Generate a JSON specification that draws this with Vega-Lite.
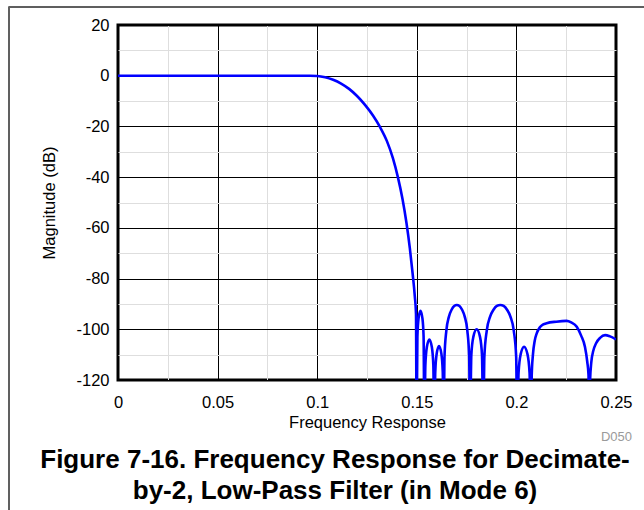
{
  "$schema": "https://vega.github.io/schema/vega-lite/v6.json",
  "width": 498,
  "height": 355,
  "autosize": "none",
  "padding": {"left": 118, "top": 25, "right": 28, "bottom": 130},
  "background": "white",
  "config": {
    "view": {"stroke": "black", "strokeWidth": 3},
    "font": "Liberation Sans",
    "axis": {"labelFont": "Liberation Sans", "titleFont": "Liberation Sans"}
  },
  "title": {
    "text": ["Figure 7-16. Frequency Response for Decimate-", "by-2, Low-Pass Filter (in Mode 6)"],
    "orient": "bottom",
    "anchor": "middle",
    "font": "Liberation Sans",
    "fontSize": 26,
    "fontWeight": "bold",
    "color": "black",
    "lineHeight": 31,
    "baseline": "alphabetic",
    "offset": -43,
    "dx": -32
  },
  "data": {
    "values": [
      {"f": 0, "db": 0}, {"f": 0.01, "db": 0}, {"f": 0.02, "db": 0}, {"f": 0.03, "db": 0},
      {"f": 0.04, "db": 0}, {"f": 0.05, "db": 0}, {"f": 0.06, "db": 0}, {"f": 0.07, "db": 0},
      {"f": 0.08, "db": 0}, {"f": 0.09, "db": 0}, {"f": 0.096, "db": -0.03}, {"f": 0.1, "db": -0.1},
      {"f": 0.104, "db": -0.6}, {"f": 0.108, "db": -1.6}, {"f": 0.112, "db": -3.1}, {"f": 0.116, "db": -5.2},
      {"f": 0.12, "db": -8.0}, {"f": 0.124, "db": -11.5}, {"f": 0.128, "db": -15.7}, {"f": 0.1315, "db": -20.2},
      {"f": 0.135, "db": -25.8}, {"f": 0.138, "db": -32.5}, {"f": 0.1405, "db": -40}, {"f": 0.1428, "db": -48.5},
      {"f": 0.1448, "db": -58}, {"f": 0.1465, "db": -68}, {"f": 0.1479, "db": -78}, {"f": 0.149, "db": -87},
      {"f": 0.1496, "db": -94}, {"f": 0.1499, "db": -140},
      {"f": 0.1503, "db": -102.9}, {"f": 0.15088, "db": -95.7}, {"f": 0.15185, "db": -92.7}, {"f": 0.15283, "db": -95.7},
      {"f": 0.15341, "db": -102.9}, {"f": 0.1538, "db": -140},
      {"f": 0.1543, "db": -114.2}, {"f": 0.15505, "db": -107}, {"f": 0.1563, "db": -104}, {"f": 0.15755, "db": -107},
      {"f": 0.1583, "db": -114.2}, {"f": 0.1588, "db": -140},
      {"f": 0.15927, "db": -116.8}, {"f": 0.15998, "db": -109.6}, {"f": 0.16115, "db": -106.6}, {"f": 0.16233, "db": -109.6},
      {"f": 0.16303, "db": -116.8}, {"f": 0.1635, "db": -140},
      {"f": 0.1639, "db": -110.9}, {"f": 0.16482, "db": -100.6}, {"f": 0.16614, "db": -95.0}, {"f": 0.16746, "db": -92.3},
      {"f": 0.16878, "db": -90.8}, {"f": 0.1701, "db": -90.4}, {"f": 0.17142, "db": -90.8}, {"f": 0.17274, "db": -92.3},
      {"f": 0.17406, "db": -95.0}, {"f": 0.17538, "db": -100.6}, {"f": 0.1763, "db": -110.9}, {"f": 0.1767, "db": -140},
      {"f": 0.17737, "db": -110.2}, {"f": 0.17838, "db": -103}, {"f": 0.18005, "db": -100}, {"f": 0.18173, "db": -103},
      {"f": 0.18273, "db": -110.2}, {"f": 0.1834, "db": -140},
      {"f": 0.18391, "db": -110.9}, {"f": 0.1851, "db": -100.6}, {"f": 0.1868, "db": -95.0}, {"f": 0.1885, "db": -92.3},
      {"f": 0.1902, "db": -90.8}, {"f": 0.1919, "db": -90.4}, {"f": 0.1936, "db": -90.8}, {"f": 0.1953, "db": -92.3},
      {"f": 0.197, "db": -95.0}, {"f": 0.1987, "db": -100.6}, {"f": 0.19989, "db": -110.9}, {"f": 0.2004, "db": -140},
      {"f": 0.20109, "db": -117.1}, {"f": 0.20213, "db": -109.9}, {"f": 0.20385, "db": -106.9}, {"f": 0.20558, "db": -109.9},
      {"f": 0.20661, "db": -117.1}, {"f": 0.2073, "db": -140},
      {"f": 0.2077, "db": -118}, {"f": 0.2083, "db": -110}, {"f": 0.2092, "db": -104.5}, {"f": 0.2102, "db": -101.6},
      {"f": 0.2118, "db": -99.2}, {"f": 0.2135, "db": -98.1}, {"f": 0.2152, "db": -97.6}, {"f": 0.22, "db": -97},
      {"f": 0.2252, "db": -96.7}, {"f": 0.2275, "db": -97.3}, {"f": 0.2303, "db": -99}, {"f": 0.2325, "db": -102.5},
      {"f": 0.2344, "db": -106.9}, {"f": 0.2356, "db": -113}, {"f": 0.2362, "db": -118}, {"f": 0.2366, "db": -140},
      {"f": 0.237, "db": -120}, {"f": 0.2376, "db": -113}, {"f": 0.2386, "db": -108.5}, {"f": 0.24, "db": -105.5},
      {"f": 0.242, "db": -103.4}, {"f": 0.2445, "db": -102.3}, {"f": 0.247, "db": -102.8}, {"f": 0.25, "db": -104}
    ]
  },
  "layer": [
    {
      "mark": {"type": "line", "strokeOpacity": 0},
      "encoding": {
        "x": {
          "field": "f", "type": "quantitative",
          "scale": {"domain": [0, 0.25], "nice": false, "zero": false},
          "axis": {
            "orient": "bottom",
            "values": [0.025, 0.075, 0.125, 0.175, 0.225],
            "grid": true, "gridColor": "#dedede", "gridWidth": 1,
            "labels": false, "ticks": false, "domain": false,
            "title": "D050", "titleFontSize": 13, "titleFontWeight": "normal", "titleColor": "#9a9a9a",
            "titleAnchor": "end", "titleAlign": "center", "titlePadding": 50
          }
        },
        "y": {
          "field": "db", "type": "quantitative",
          "scale": {"domain": [-120, 20], "nice": false, "zero": false},
          "axis": {
            "orient": "left",
            "values": [-110, -90, -70, -50, -30, -10, 10],
            "grid": true, "gridColor": "#dedede", "gridWidth": 1,
            "labels": false, "ticks": false, "domain": false, "title": null
          }
        }
      }
    },
    {
      "mark": {"type": "line", "color": "#0000ff", "strokeWidth": 2.6, "clip": true, "interpolate": "monotone"},
      "encoding": {
        "x": {
          "field": "f", "type": "quantitative",
          "scale": {"domain": [0, 0.25], "nice": false, "zero": false},
          "axis": {
            "orient": "bottom",
            "values": [0, 0.05, 0.1, 0.15, 0.2, 0.25],
            "labelExpr": "'' + datum.value",
            "grid": true, "gridColor": "black", "gridWidth": 1,
            "ticks": false, "domain": false,
            "labelFlush": false, "labelOverlap": false,
            "labelFontSize": 16.5, "labelColor": "black", "labelPadding": 14,
            "title": "Frequency Response", "titleFontSize": 16.5, "titleFontWeight": "normal",
            "titleColor": "black", "titlePadding": 4
          }
        },
        "y": {
          "field": "db", "type": "quantitative",
          "scale": {"domain": [-120, 20], "nice": false, "zero": false},
          "axis": {
            "orient": "left",
            "values": [-120, -100, -80, -60, -40, -20, 0, 20],
            "labelExpr": "'' + datum.value",
            "grid": true, "gridColor": "black", "gridWidth": 1,
            "ticks": false, "domain": false,
            "labelFlush": false, "labelOverlap": false,
            "labelFontSize": 16.5, "labelColor": "black", "labelPadding": 9,
            "title": "Magnitude (dB)", "titleFontSize": 16.5, "titleFontWeight": "normal",
            "titleColor": "black", "titlePadding": 18
          }
        }
      }
    },
    {
      "mark": {"type": "rule", "color": "#606060", "strokeWidth": 1},
      "encoding": {
        "x": {"datum": -0.0547, "type": "quantitative", "axis": null},
        "x2": {"datum": 0.27},
        "y": {"datum": 27.1, "type": "quantitative", "axis": null}
      }
    },
    {
      "mark": {"type": "rule", "color": "#606060", "strokeWidth": 1},
      "encoding": {
        "x": {"datum": -0.0547, "type": "quantitative", "axis": null},
        "y": {"datum": 27.1, "type": "quantitative", "axis": null},
        "y2": {"datum": -171.3}
      }
    }
  ],
  "resolve": {"axis": {"x": "independent", "y": "independent"}}
}
